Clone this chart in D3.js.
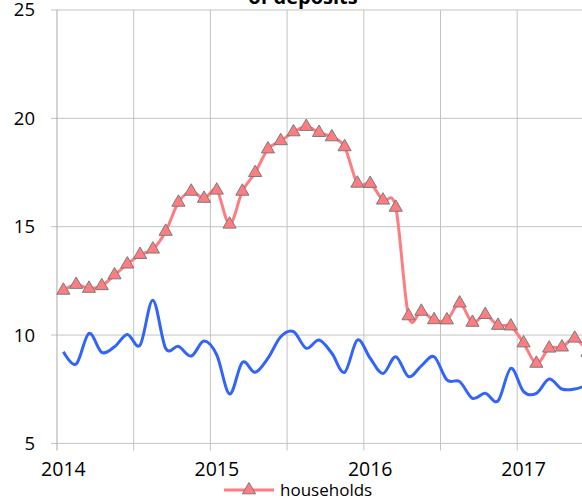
<!DOCTYPE html>
<html>
<head>
<meta charset="utf-8">
<script src="https://d3js.org/d3.v7.min.js"></script>
<style>
  body { margin: 0; background: #fff; }
  text { font-family: "Open Sans", sans-serif; fill: #000; }
</style>
</head>
<body>
<div id="chart"></div>
<script>
// monthly values, Jan 2014 .. Jun 2017
var households = [12.06, 12.33, 12.15, 12.27, 12.77, 13.27, 13.71, 13.96, 14.78, 16.12, 16.63, 16.3,
    16.68, 15.11, 16.63, 17.49, 18.58, 18.96, 19.37, 19.62, 19.34, 19.14, 18.68, 17.0,
    16.99, 16.22, 15.89, 10.88, 11.09, 10.7, 10.69, 11.47, 10.58, 10.94, 10.44, 10.41,
    9.63, 8.69, 9.39, 9.44, 9.85, 9.2];
var otherSeries = [9.23, 8.66, 10.08, 9.2, 9.46, 10.03, 9.54, 11.61, 9.39, 9.48, 9.03, 9.72,
    9.08, 7.28, 8.74, 8.28, 8.93, 9.92, 10.16, 9.39, 9.77, 9.16, 8.28, 9.77,
    8.93, 8.23, 9.0, 8.08, 8.58, 9.0, 7.93, 7.85, 7.08, 7.31, 6.96, 8.46,
    7.39, 7.31, 7.97, 7.51, 7.51, 7.7];
var years = ["2014", "2015", "2016", "2017"];
var yTicks = [5, 10, 15, 20, 25];
var titleText = "of deposits";
var legendLabel = "households";

var width = 582, height = 500;
var margin = {top: 10, left: 57, bottom: 56.6};

var svg = d3.select("#chart")
    .append("svg")
    .attr("width", width)
    .attr("height", height);

// x in months since Jan 2014 (12 months = 153.4px)
var x = d3.scaleLinear()
    .domain([0, 48])
    .range([margin.left, margin.left + 153.4 * 4]);

var y = d3.scaleLinear()
    .domain([5, 25])
    .range([height - margin.bottom, margin.top]);

var plot = svg.append("g");

// horizontal gridlines
plot.selectAll(".hgrid")
    .data(yTicks)
    .enter()
    .append("line")
    .attr("x1", margin.left - 6)
    .attr("x2", width)
    .attr("y1", function(d) { return y(d); })
    .attr("y2", function(d) { return y(d); })
    .style("stroke", "#c3c3c3")
    .style("stroke-width", 1);

// vertical gridlines every 6 months, with tick below the axis
plot.selectAll(".vgrid")
    .data(d3.range(0, 48, 6))
    .enter()
    .append("line")
    .attr("x1", function(d) { return x(d); })
    .attr("x2", function(d) { return x(d); })
    .attr("y1", y(25))
    .attr("y2", y(5) + 7)
    .style("stroke", function(d) { return d === 0 ? "#a9a9a9" : "#c3c3c3"; })
    .style("stroke-width", 1);

// y labels
svg.selectAll(".ylab")
    .data(yTicks)
    .enter()
    .append("text")
    .attr("x", 35)
    .attr("y", function(d) { return y(d); })
    .attr("dy", "0.35em")
    .attr("text-anchor", "end")
    .style("font-size", "18.5px")
    .text(function(d) { return d; });

// x labels, centred on the January bin
svg.selectAll(".xlab")
    .data(years)
    .enter()
    .append("text")
    .attr("x", function(d, i) { return x(i * 12 + 0.5); })
    .attr("y", 476)
    .attr("text-anchor", "middle")
    .style("font-size", "19.5px")
    .text(function(d) { return d; });

var lineSmooth = d3.line()
    .x(function(d, i) { return x(i + 0.5); })
    .y(function(d) { return y(d); })
    .curve(d3.curveCardinal);

plot.append("path")
    .datum(otherSeries)
    .attr("d", lineSmooth)
    .style("fill", "none")
    .style("stroke", "#3264fa")
    .style("stroke-width", 3);

plot.append("path")
    .datum(households)
    .attr("d", lineSmooth)
    .style("fill", "none")
    .style("stroke", "#ff7c80")
    .style("stroke-width", 3);

var tri = d3.symbol().type(d3.symbolTriangle).size(75);

plot.selectAll(".marker")
    .data(households)
    .enter()
    .append("path")
    .attr("d", tri)
    .attr("transform", function(d, i) { return "translate(" + x(i + 0.5) + "," + y(d) + ")"; })
    .style("fill", "#ff7c80")
    .style("stroke", "#7a7a7a")
    .style("stroke-width", 1);

// title, mostly cut off at the top
svg.append("text")
    .attr("x", 303)
    .attr("y", 4)
    .attr("text-anchor", "middle")
    .style("font-size", "20px")
    .style("font-weight", "bold")
    .text(titleText);

// legend
var legend = svg.append("g");
legend.append("line")
    .attr("x1", 224).attr("x2", 274)
    .attr("y1", 490).attr("y2", 490)
    .style("stroke", "#ff7c80")
    .style("stroke-width", 3);
legend.append("path")
    .attr("d", tri)
    .attr("transform", "translate(249,490)")
    .style("fill", "#ff7c80")
    .style("stroke", "#7a7a7a")
    .style("stroke-width", 1);
legend.append("text")
    .attr("x", 280)
    .attr("y", 496)
    .style("font-size", "17px")
    .text(legendLabel);
</script>
</body>
</html>
